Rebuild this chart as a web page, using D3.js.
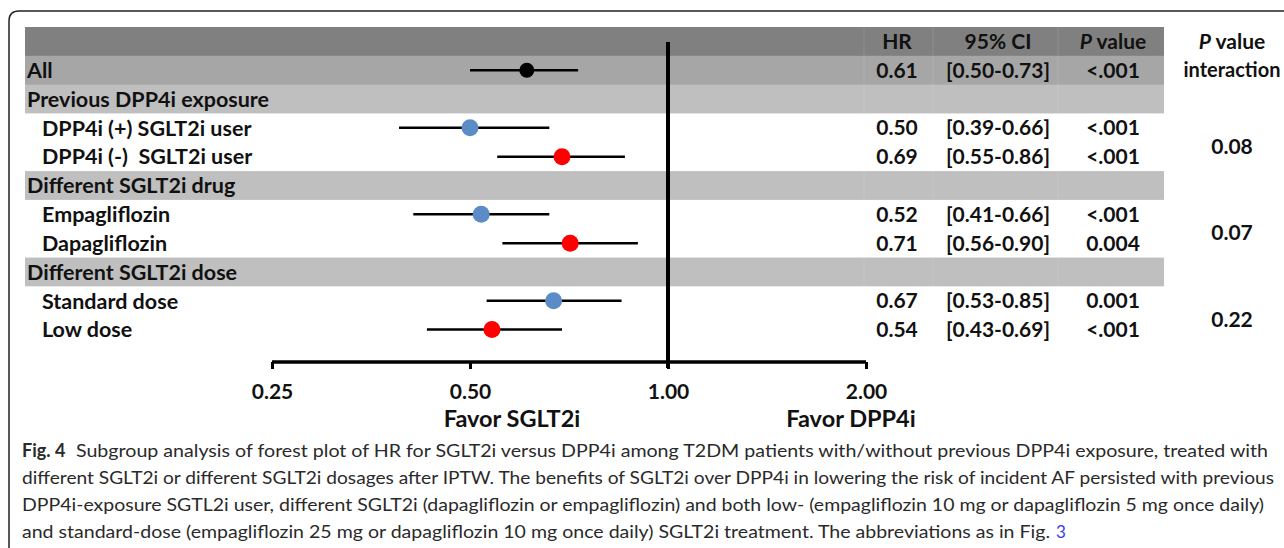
<!DOCTYPE html>
<html>
<head>
    <meta charset="utf-8" />
    <title>Forest plot</title>
    <script type="text/javascript" src="https://cdn.jsdelivr.net/npm/d3@7"></script>
    <style>
        body { margin: 0; background: #fff; }
        svg text { font-family: Lato, "Open Sans", sans-serif; }
    </style>
</head>
<body>
    <script type="text/javascript">

        // size of the page
        var w = 1284;
        var h = 548;

        // rows of the table
        var labels = ["All", "Previous DPP4i exposure", "DPP4i (+) SGLT2i user", "DPP4i (-)  SGLT2i user",
            "Different SGLT2i drug", "Empagliflozin", "Dapagliflozin",
            "Different SGLT2i dose", "Standard dose", "Low dose"];
        var rowKinds = ["all", "section", "item", "item", "section", "item", "item", "section", "item", "item"];
        var hr = [0.61, null, 0.50, 0.69, null, 0.52, 0.71, null, 0.67, 0.54];
        var ciLow = [0.50, null, 0.39, 0.55, null, 0.41, 0.56, null, 0.53, 0.43];
        var ciHigh = [0.73, null, 0.66, 0.86, null, 0.66, 0.90, null, 0.85, 0.69];
        var pValues = ["<.001", "", "<.001", "<.001", "", "<.001", "0.004", "", "0.001", "<.001"];
        var markerKind = ["all", null, "first", "second", null, "first", "second", null, "first", "second"];

        // p interaction, sits between the two rows of each group
        var interactionP = ["0.08", "0.07", "0.22"];
        var interactionRows = [[2, 3], [5, 6], [8, 9]];

        var tickValues = [0.25, 0.5, 1, 2];
        var tickLabels = ["0.25", "0.50", "1.00", "2.00"];

        var captionLines = [
            "Subgroup analysis of forest plot of HR for SGLT2i versus DPP4i among T2DM patients with/without previous DPP4i exposure, treated with",
            "different SGLT2i or different SGLT2i dosages after IPTW. The benefits of SGLT2i over DPP4i in lowering the risk of incident AF persisted with previous",
            "DPP4i-exposure SGTL2i user, different SGLT2i (dapagliflozin or empagliflozin) and both low- (empagliflozin 10 mg or dapagliflozin 5 mg once daily)",
            "and standard-dose (empagliflozin 25 mg or dapagliflozin 10 mg once daily) SGLT2i treatment. The abbreviations as in Fig."
        ];

        var bandColors = { header: "#808080", all: "#a6a6a6", section: "#bfbfbf", item: "#ffffff" };
        var dotColors = { all: "#000000", first: "#5b8cc8", second: "#ff0000" };

        var fs = 21;

        var svg = d3.select("body").append("svg")
            .attr("width", w)
            .attr("height", h);

        // frame of the figure (cut by the page edge at right and bottom)
        svg.append("path")
            .attr("d", "M9," + (h + 5) + " L9,21 Q9,11 19,11 L" + (w + 5) + ",11")
            .attr("fill", "none")
            .attr("stroke", "#222")
            .attr("stroke-width", 1.5);

        // scales
        var rowIds = d3.range(-1, labels.length);
        var yScale = d3.scaleBand()
            .domain(rowIds)
            .range([27, 344]);

        var xScale = d3.scaleLog()
            .base(2)
            .domain([0.25, 2])
            .range([272, 866]);

        var bandLeft = 25, bandRight = 1164;

        // bands
        var bands = svg.append("g").attr("id", "bands");
        bands.selectAll("rect")
            .data(rowIds)
            .enter()
            .append("rect")
            .attr("x", bandLeft)
            .attr("y", function (d) { return yScale(d); })
            .attr("width", bandRight - bandLeft)
            .attr("height", yScale.bandwidth() + 0.5)
            .attr("fill", function (d) { return d < 0 ? bandColors.header : bandColors[rowKinds[d]]; });

        // faint column separators inside grey bands
        var sepX = [864, 933, 1058];
        rowIds.forEach(function (d) {
            var kind = d < 0 ? "header" : rowKinds[d];
            if (kind === "item") return;
            sepX.forEach(function (x) {
                bands.append("line")
                    .attr("x1", x).attr("x2", x)
                    .attr("y1", yScale(d)).attr("y2", yScale(d) + yScale.bandwidth())
                    .attr("stroke", "#ffffff")
                    .attr("stroke-opacity", 0.12)
                    .attr("stroke-width", 1);
            });
        });

        // row labels
        svg.append("g")
            .selectAll("text")
            .data(labels)
            .enter()
            .append("text")
            .attr("x", function (d, i) { return rowKinds[i] === "item" ? 42 : 27; })
            .attr("y", function (d, i) { return yScale(i) + yScale.bandwidth() / 2; })
            .attr("dy", "0.36em")
            .attr("font-size", fs + 0.5)
            .attr("font-weight", 700)
            .attr("fill", "#111")
            .style("white-space", "pre")
            .text(function (d) { return d; });

        // reference line at HR = 1
        svg.append("line")
            .attr("x1", xScale(1)).attr("x2", xScale(1))
            .attr("y1", 42).attr("y2", 368)
            .attr("stroke", "#000")
            .attr("stroke-width", 4);

        // axis
        var xAxis = d3.axisBottom(xScale)
            .tickValues(tickValues)
            .tickFormat(function (d, i) { return tickLabels[i]; })
            .tickSize(7)
            .tickSizeOuter(0)
            .tickPadding(15);

        var axisG = svg.append("g")
            .attr("class", "x axis")
            .attr("transform", "translate(0,362)")
            .call(xAxis);
        axisG.select(".domain").attr("stroke", "#000").attr("stroke-width", 3.5)
            .attr("d", "M" + xScale(0.25) + ",0H" + xScale(2));
        axisG.selectAll(".tick line").attr("stroke", "#000").attr("stroke-width", 3);
        axisG.selectAll(".tick text")
            .attr("font-family", "Lato, sans-serif")
            .attr("font-size", fs)
            .attr("font-weight", 700)
            .attr("fill", "#111");

        svg.append("text")
            .attr("x", 512).attr("y", 427)
            .attr("text-anchor", "middle")
            .attr("font-size", 23.5)
            .attr("font-weight", 700)
            .attr("fill", "#111")
            .text("Favor SGLT2i");
        svg.append("text")
            .attr("x", 851).attr("y", 427)
            .attr("text-anchor", "middle")
            .attr("font-size", 23.5)
            .attr("font-weight", 700)
            .attr("fill", "#111")
            .text("Favor DPP4i");

        // confidence intervals and points
        var idx = d3.range(labels.length).filter(function (i) { return hr[i] !== null; });
        var marks = svg.append("g").attr("id", "marks");
        marks.selectAll("line")
            .data(idx)
            .enter()
            .append("line")
            .attr("x1", function (i) { return xScale(ciLow[i]); })
            .attr("x2", function (i) { return xScale(ciHigh[i]); })
            .attr("y1", function (i) { return yScale(i) + yScale.bandwidth() / 2; })
            .attr("y2", function (i) { return yScale(i) + yScale.bandwidth() / 2; })
            .attr("stroke", "#000")
            .attr("stroke-width", 2.5);
        marks.selectAll("circle")
            .data(idx)
            .enter()
            .append("circle")
            .attr("cx", function (i) { return xScale(hr[i]); })
            .attr("cy", function (i) { return yScale(i) + yScale.bandwidth() / 2; })
            .attr("r", function (i) { return markerKind[i] === "all" ? 7.5 : 8.5; })
            .attr("fill", function (i) { return dotColors[markerKind[i]]; });

        // table columns
        var colHR = 897, colCI = 998, colP = 1113, colInt = 1232;
        var headY = yScale(-1) + yScale.bandwidth() / 2;
        var head = svg.append("g")
            .attr("font-size", fs)
            .attr("font-weight", 700)
            .attr("fill", "#111")
            .attr("text-anchor", "middle");
        head.append("text").attr("x", colHR).attr("y", headY).attr("dy", "0.36em").text("HR");
        head.append("text").attr("x", colCI).attr("y", headY).attr("dy", "0.36em").text("95% CI");
        var pv = head.append("text").attr("x", colP).attr("y", headY).attr("dy", "0.36em");
        pv.append("tspan").attr("font-style", "italic").text("P");
        pv.append("tspan").text(" value");
        var pi = head.append("text").attr("x", colInt).attr("y", headY).attr("dy", "0.36em");
        pi.append("tspan").attr("font-style", "italic").text("P");
        pi.append("tspan").text(" value");
        head.append("text").attr("x", colInt).attr("y", yScale(0) + yScale.bandwidth() / 2)
            .attr("dy", "0.36em").attr("font-size", fs - 1).text("interaction");

        var fmt = d3.format(".2f");
        var table = svg.append("g")
            .attr("font-size", fs)
            .attr("font-weight", 700)
            .attr("fill", "#111")
            .attr("text-anchor", "middle");
        idx.forEach(function (i) {
            var cy = yScale(i) + yScale.bandwidth() / 2;
            table.append("text").attr("x", colHR).attr("y", cy).attr("dy", "0.36em").text(fmt(hr[i]));
            table.append("text").attr("x", colCI).attr("y", cy).attr("dy", "0.36em")
                .text("[" + fmt(ciLow[i]) + "-" + fmt(ciHigh[i]) + "]");
            table.append("text").attr("x", colP).attr("y", cy).attr("dy", "0.36em").text(pValues[i]);
        });
        interactionP.forEach(function (p, k) {
            var r = interactionRows[k];
            var cy = (yScale(r[0]) + yScale(r[1]) + yScale.bandwidth()) / 2 + 4;
            table.append("text").attr("x", colInt).attr("y", cy).attr("dy", "0.36em").text(p);
        });

        // caption
        var capY = [457, 484, 511, 538];
        var capEnd = [1268, 1274, 1264, 1050];
        var cap = svg.append("g")
            .attr("font-family", "'Open Sans', sans-serif")
            .attr("font-size", 17)
            .attr("fill", "#2a2a2a");
        captionLines.forEach(function (line, i) {
            if (i === 0) {
                cap.append("text")
                    .attr("x", 22).attr("y", capY[i])
                    .attr("font-weight", 700).attr("font-size", 18)
                    .text("Fig. 4");
                cap.append("text")
                    .attr("x", 76).attr("y", capY[i])
                    .attr("textLength", capEnd[i] - 76)
                    .attr("lengthAdjust", "spacingAndGlyphs")
                    .text(line);
            } else {
                cap.append("text")
                    .attr("x", 22).attr("y", capY[i])
                    .attr("textLength", capEnd[i] - 22)
                    .attr("lengthAdjust", "spacingAndGlyphs")
                    .text(line);
            }
        });
        cap.append("text")
            .attr("x", 1056).attr("y", capY[3])
            .attr("fill", "#3a3af0")
            .text("3");

    </script>
</body>
</html>
